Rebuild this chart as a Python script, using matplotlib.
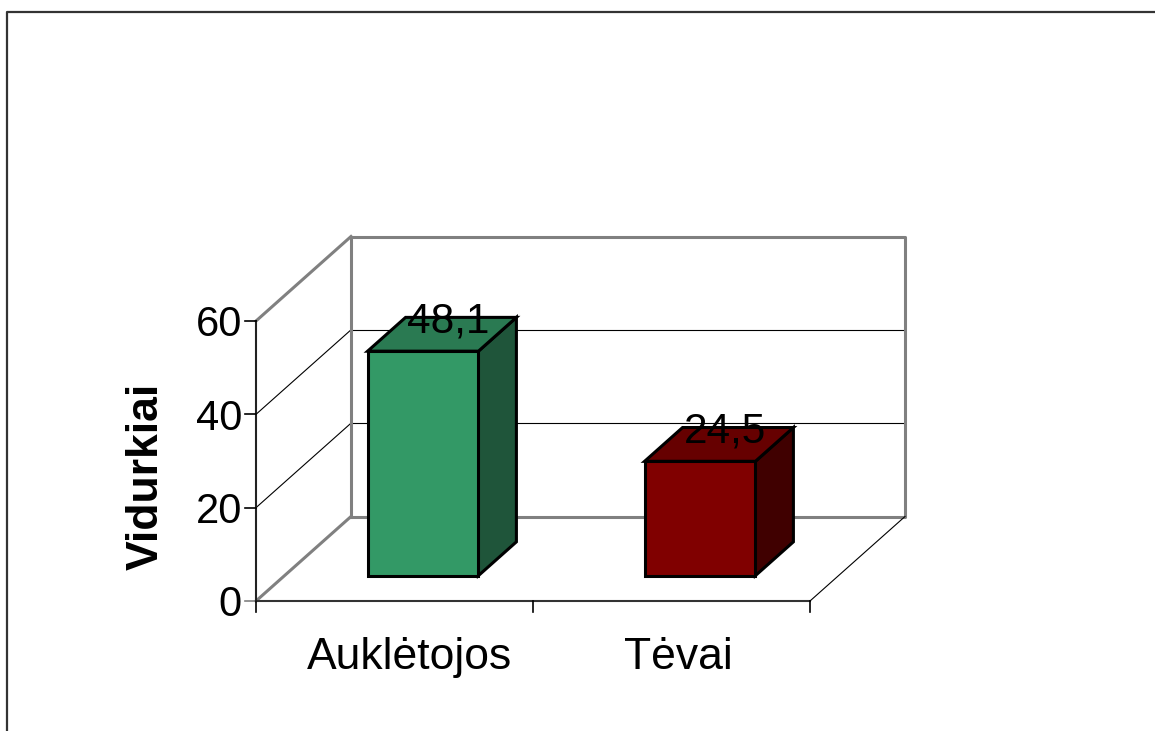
import matplotlib
matplotlib.use("Agg")
import matplotlib.pyplot as plt
import numpy as np
from matplotlib.patches import Polygon
from matplotlib.lines import Line2D
from matplotlib.transforms import IdentityTransform

# --- data -------------------------------------------------------------
categories = ["Auklėtojos", "Tėvai"]
values = [48.1, 24.5]
value_labels = ["48,1", "24,5"]
y_ticks = [0, 20, 40, 60]
y_label = "Vidurkiai"

front_colors = ["#339966", "#800000"]
top_colors = ["#2a7a52", "#660000"]
side_colors = ["#1f553a", "#400000"]

# --- figure -----------------------------------------------------------
W, H, DPI = 1155, 731, 100
plt.rcParams["font.family"] = ["Liberation Sans", "DejaVu Sans"]
fig = plt.figure(figsize=(W / DPI, H / DPI), dpi=DPI)
fig.patch.set_facecolor("white")

# front plane of the 3-D box: categories along x, values along y
ax = fig.add_axes([256 / W, (H - 601) / H, 554 / W, 280 / H])
ax.set_xlim(0, len(categories))
ax.set_ylim(0, y_ticks[-1])
ax.set_axis_off()

DEPTH = np.array([95.0, 84.5])  # pixel shift for full depth of the box
ident = IdentityTransform()
GRAY = "#808080"


def proj(x, y, d=0.0):
    """Data point on the front plane pushed back by depth fraction d."""
    return ax.transData.transform((x, y)) + DEPTH * d


def seg(points, **kw):
    pts = np.array(points)
    ax.add_line(Line2D(pts[:, 0], pts[:, 1], transform=ident,
                       clip_on=False, solid_capstyle="projecting", **kw))


def face(points, color, z):
    ax.add_patch(Polygon(np.array(points), closed=True, transform=ident,
                         facecolor=color, edgecolor="black", lw=2.2,
                         joinstyle="miter", clip_on=False, zorder=z))


nx = len(categories)
ytop = y_ticks[-1]

# gridlines on the back wall and the left wall
for v in y_ticks[1:-1]:
    seg([proj(0, v, 1), proj(nx, v, 1)], color="black", lw=0.8, zorder=1)
    seg([proj(0, v, 0), proj(0, v, 1)], color="black", lw=0.8, zorder=1)

# back wall outline and left wall edges
seg([proj(0, 0, 1), proj(nx, 0, 1), proj(nx, ytop, 1),
     proj(0, ytop, 1), proj(0, 0, 1)], color=GRAY, lw=2.2, zorder=2)
seg([proj(0, ytop, 0), proj(0, ytop, 1)], color=GRAY, lw=2.2, zorder=2)
seg([proj(0, 0, 0), proj(0, 0, 1)], color=GRAY, lw=2.2, zorder=2)

# floor edges
seg([proj(0, 0, 0), proj(nx, 0, 0)], color="#333333", lw=1.5, zorder=2)
seg([proj(nx, 0, 0), proj(nx, 0, 1)], color="black", lw=0.8, zorder=2)

# value axis line and ticks
seg([proj(0, 0, 0), proj(0, ytop, 0)], color="#222222", lw=1.5, zorder=3)
for v in y_ticks:
    p = proj(0, v, 0)
    seg([p + (-11, 0), p], color=GRAY if v == 0 else "black", lw=1.2, zorder=3)
    ax.text(p[0] - 14, p[1], str(v), transform=ident, ha="right",
            va="center_baseline", fontsize=30, clip_on=False)

# category ticks
for i in range(nx + 1):
    p = proj(i, 0, 0)
    seg([p, p + (0, -11)], color="black", lw=1.2, zorder=3)

# bars
f1, f2, half = 0.3, 0.7, 0.2
for i, (v, lab) in enumerate(zip(values, value_labels)):
    xc = i + 0.5
    x0, x1 = xc - half, xc + half
    face([proj(x1, 0, f1), proj(x1, 0, f2), proj(x1, v, f2), proj(x1, v, f1)],
         side_colors[i], 4)
    face([proj(x0, v, f1), proj(x1, v, f1), proj(x1, v, f2), proj(x0, v, f2)],
         top_colors[i], 4)
    face([proj(x0, 0, f1), proj(x1, 0, f1), proj(x1, v, f1), proj(x0, v, f1)],
         front_colors[i], 5)
    p = proj(xc, v, 0.5) + (6, 2)
    ax.text(p[0], p[1], lab, transform=ident, ha="center", va="baseline",
            fontsize=30.5, zorder=6, clip_on=False)

# category labels, nudged slightly right of the slot centres
label_nudge = [15, 7]
for i, cat in enumerate(categories):
    p = proj(i + 0.5, 0, 0) + (label_nudge[i], -68)
    ax.text(p[0], p[1], cat, transform=ident, ha="center", va="baseline",
            fontsize=32, clip_on=False)

# value axis title
ax.text(146, H - 476, y_label, transform=ident, rotation=90, ha="center",
        va="center", fontsize=32, fontweight="bold", clip_on=False)

# chart area border (top and left)
fig.add_artist(Line2D([7, 7, W], [0, H - 12, H - 12], transform=ident,
                      color="#333333", lw=1.6))

fig.savefig("out.png", dpi=DPI, facecolor="white")
